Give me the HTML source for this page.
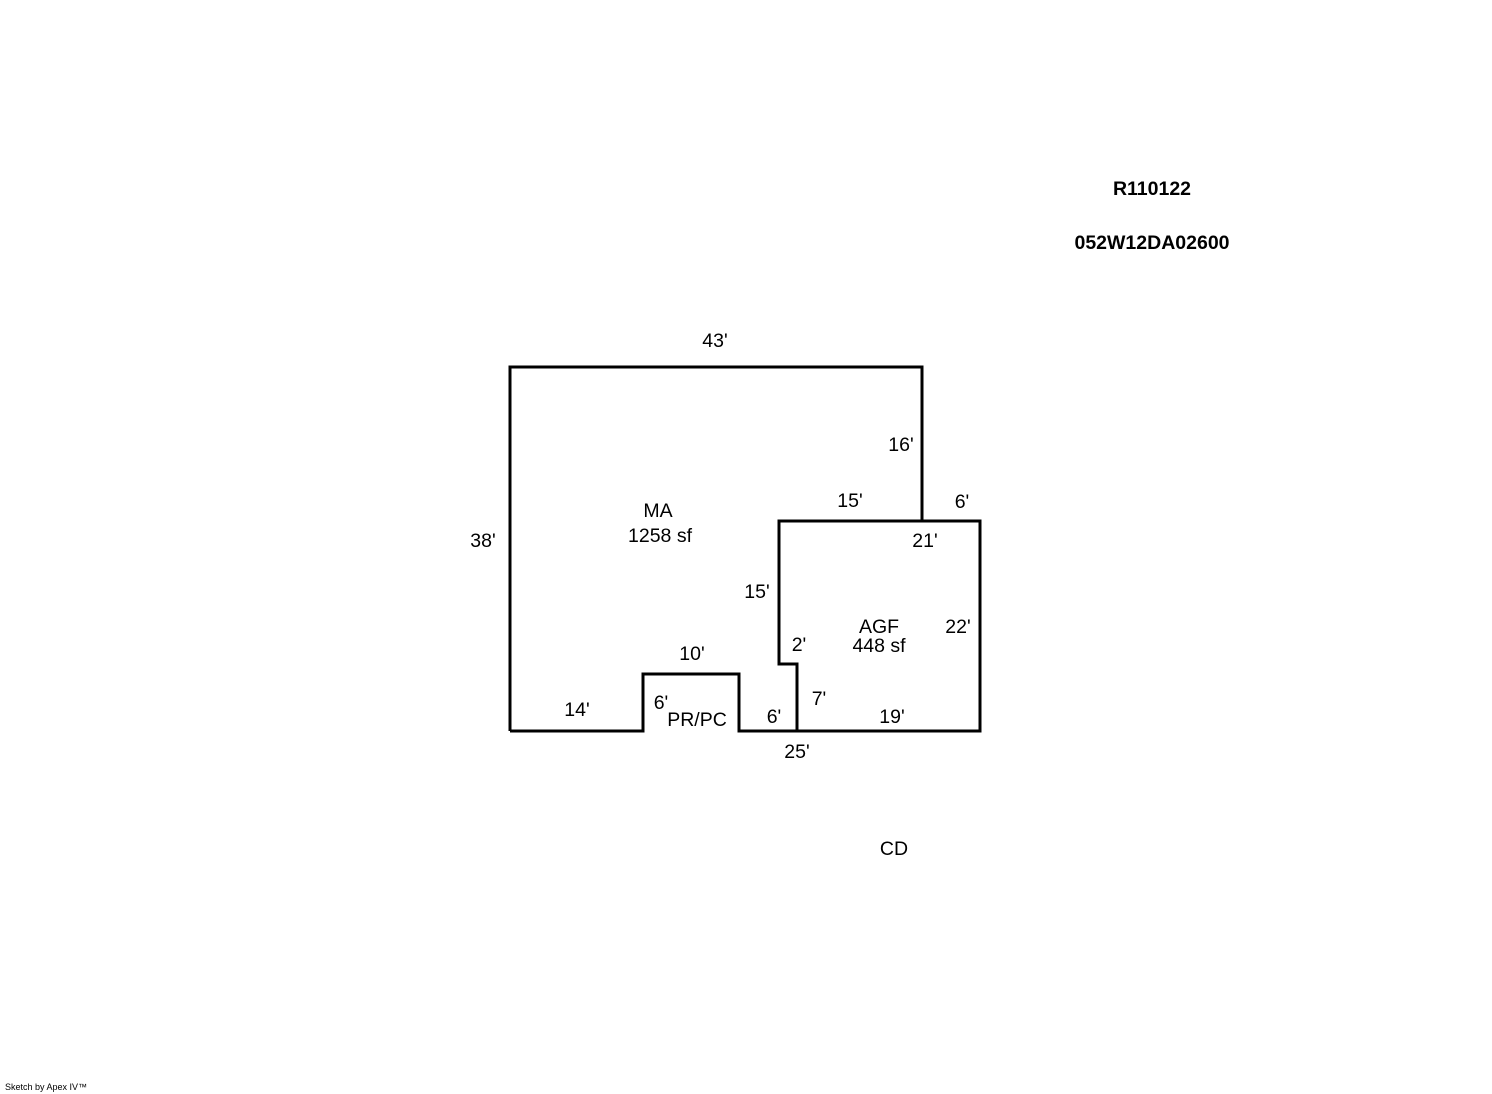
<!DOCTYPE html>
<html><head><style>body{margin:0;background:#fff}</style></head><body>
<svg width="1492" height="1094" xmlns="http://www.w3.org/2000/svg" style="display:block">
<g fill="none" stroke="#000" stroke-width="3" stroke-linejoin="miter">
<path d="M510,731 L510,367 L922,367 L922,521"/>
<path d="M779,521 L980,521 L980,731 L797,731 L797,664 L779,664 Z"/>
<path d="M510,731 L643,731 L643,674 L739,674 L739,731 L797,731"/>
</g>
<g font-family="Liberation Sans, Arial, sans-serif" font-size="19.5" text-anchor="middle" fill="#000">
<text x="1152" y="195" font-weight="bold">R110122</text>
<text x="1152" y="249" font-weight="bold">052W12DA02600</text>
<text x="715" y="347">43'</text>
<text x="901" y="451">16'</text>
<text x="850" y="507">15'</text>
<text x="962" y="508">6'</text>
<text x="658" y="517">MA</text>
<text x="660" y="542">1258 sf</text>
<text x="925" y="547">21'</text>
<text x="483" y="547">38'</text>
<text x="757" y="598">15'</text>
<text x="879" y="633">AGF</text>
<text x="879" y="652">448 sf</text>
<text x="958" y="633">22'</text>
<text x="799" y="651">2'</text>
<text x="692" y="660">10'</text>
<text x="819" y="705">7'</text>
<text x="661" y="709">6'</text>
<text x="577" y="716">14'</text>
<text x="697" y="726">PR/PC</text>
<text x="774" y="723">6'</text>
<text x="892" y="723">19'</text>
<text x="797" y="758">25'</text>
<text x="894" y="855">CD</text>
</g>
<text x="5" y="1090" font-family="Liberation Sans, Arial, sans-serif" font-size="9">Sketch by Apex IV™</text>
</svg>
</body></html>
